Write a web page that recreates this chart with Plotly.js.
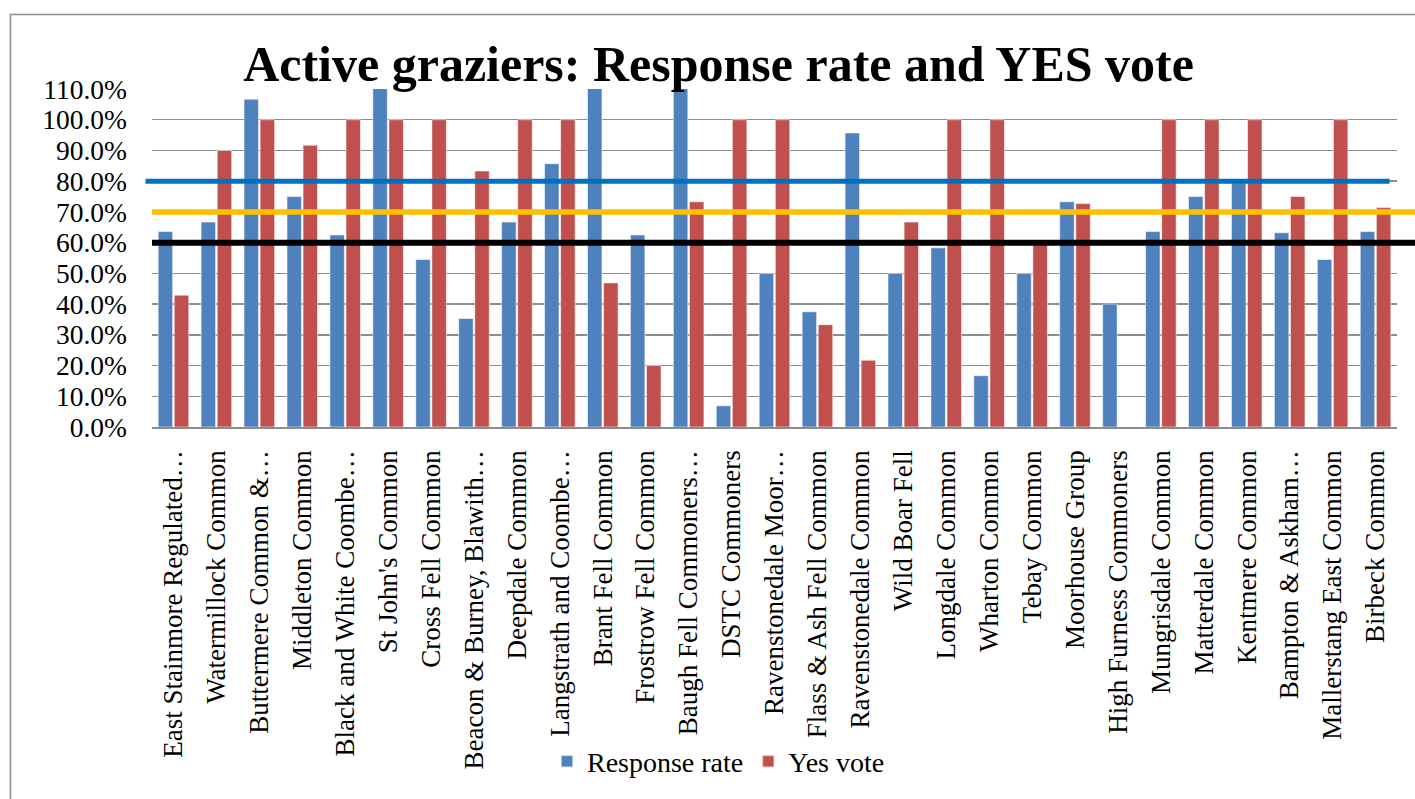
<!DOCTYPE html>
<html>
<head>
<meta charset="utf-8">
<script src="https://cdn.plot.ly/plotly-3.0.1.min.js"></script>
<style>
  html, body { margin: 0; padding: 0; background: #ffffff; }
  #chart { width: 1415px; height: 799px; }
</style>
</head>
<body>
<div id="chart"></div>
<script>
// Commons / grazing associations
const commons = [
  "East Stainmore Regulated…", "Watermillock Common", "Buttermere Common &…",
  "Middleton Common", "Black and White Coombe…", "St John's Common",
  "Cross Fell Common", "Beacon & Burney, Blawith…", "Deepdale Common",
  "Langstrath and Coombe…", "Brant Fell Common", "Frostrow Fell Common",
  "Baugh Fell Commoners…", "DSTC Commoners", "Ravenstonedale Moor…",
  "Flass & Ash Fell Common", "Ravenstonedale Common", "Wild Boar Fell",
  "Longdale Common", "Wharton Common", "Tebay Common", "Moorhouse Group",
  "High Furness Commoners", "Mungrisdale Common", "Matterdale Common",
  "Kentmere Common", "Bampton & Askham…", "Mallerstang East Common",
  "Birbeck Common"
];

// Share of active graziers who responded (%)
const responseRate = [
  63.6, 66.7, 106.7, 75.0, 62.5, 112.5, 54.5, 35.3, 66.7, 85.7,
  116.7, 62.5, 114.3, 6.9, 50.0, 37.5, 95.7, 50.0, 58.3, 16.7,
  50.0, 73.3, 40.0, 63.6, 75.0, 79.5, 63.2, 54.5, 63.6
];

// Share of respondents voting YES (%)
const yesVote = [
  42.9, 90.0, 100, 91.7, 100, 100, 100, 83.3, 100, 100,
  46.9, 20.0, 73.3, 100, 100, 33.3, 21.7, 66.7, 100, 100,
  59.6, 72.7, null, 100, 100, 100, 75.0, 100, 71.4
];

// Reference thresholds (%)
const thresholdLevels = [80, 70, 60];
const thresholdColors = ["#0070C0", "#FFC000", "#000000"];
const thresholdWidths = [5, 5.5, 6];

const serif = "Liberation Serif, Times New Roman, serif";

const traces = [
  {
    type: "bar", name: "Response rate", x: commons, y: responseRate,
    marker: { color: "#4F81BD", line: { color: "rgba(255,255,255,0.55)", width: 1 } },
    hoverinfo: "x+y"
  },
  {
    type: "bar", name: "Yes vote", x: commons, y: yesVote,
    marker: { color: "#C0504D", line: { color: "rgba(255,255,255,0.55)", width: 1 } },
    hoverinfo: "x+y"
  }
];

// Threshold lines across the plot
const lineExtents = [[-0.0052, 0.994], [0, 1.05], [0, 1.05]];
const shapes = thresholdLevels.map((lvl, i) => ({
  type: "line", xref: "paper", yref: "y",
  x0: lineExtents[i][0], x1: lineExtents[i][1], y0: lvl, y1: lvl,
  line: { color: thresholdColors[i], width: thresholdWidths[i] }
}));

// Chart-area frame
shapes.push({
  type: "rect", xref: "paper", yref: "paper",
  x0: -0.1137, x1: 1.1, y0: -1.2, y1: 1.2201,
  line: { color: "#8c8c8c", width: 1.5 }, fillcolor: "rgba(0,0,0,0)", layer: "below"
});

const layout = {
  width: 1415, height: 799,
  margin: { l: 152, r: 18, t: 89, b: 367 },
  paper_bgcolor: "#ffffff", plot_bgcolor: "#ffffff",
  font: { family: serif, color: "#000000" },
  title: {
    text: "<b>Active graziers: Response rate and YES vote</b>",
    font: { family: serif, size: 50, color: "#000000" },
    xref: "container", x: 0.5078, xanchor: "center",
    yref: "container", y: 0.921, yanchor: "middle"
  },
  barmode: "group", bargap: 0.25, bargroupgap: 0.1,
  xaxis: {
    type: "category", tickangle: -90,
    tickfont: { family: serif, size: 27, color: "#000000" },
    showgrid: false, showline: true, linecolor: "#8c8c8c", linewidth: 1.5,
    ticks: "", ticklabelstandoff: 11, automargin: false
  },
  yaxis: {
    range: [0, 110], dtick: 10, tick0: 0,
    tickformat: ".1f", ticksuffix: "%",
    tickfont: { family: serif, size: 27.5, color: "#000000" },
    showgrid: true, gridcolor: "#8c8c8c", gridwidth: 1.5,
    zeroline: false, showline: false, ticks: "",
    ticklabelstandoff: 24, automargin: false, fixedrange: true
  },
  showlegend: true,
  legend: {
    orientation: "h", x: 0.455, xanchor: "center", y: -0.99, yanchor: "middle",
    font: { family: serif, size: 28, color: "#000000" },
    itemwidth: 30, itemsizing: "constant", traceorder: "normal"
  },
  shapes: shapes
};

Plotly.newPlot("chart", traces, layout, { displayModeBar: false, staticPlot: true });
</script>
</body>
</html>
